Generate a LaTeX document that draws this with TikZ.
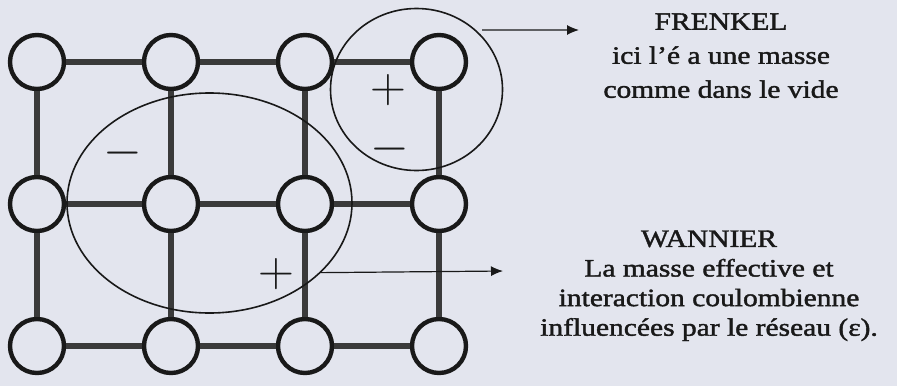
\documentclass[tikz,border=0pt]{standalone}
\usepackage{fontspec}
\setmainfont{Liberation Serif}[FakeStretch=1.18, FakeBold=1.6]
\usetikzlibrary{arrows.meta,shapes.geometric}
\definecolor{papier}{RGB}{227,229,238}
\definecolor{encre}{RGB}{25,25,25}
\definecolor{trait}{RGB}{58,58,58}

\begin{document}
\begin{tikzpicture}[x=0.5pt, y=-0.5pt, >={Latex[length=6pt,width=5pt]},
  atome/.style={circle, draw=encre, line width=2.2pt, minimum size=27pt, inner sep=0pt},
  liaison/.style={draw=trait, line width=3.2pt},
  zone/.style={ellipse, draw=encre, line width=0.8pt, inner sep=0pt},
  charge/.style={inner sep=0pt, text=encre, font=\fontsize{31}{31}\selectfont},
  legende/.style={align=center, inner sep=0pt, anchor=north, text=encre}]

  % fond (papier)
  \fill[papier] (0,0) rectangle (897,386);

  % atomes du réseau (3 rangées, 4 colonnes)
  \foreach \r in {1,2,3} {
    \foreach \c in {1,...,4} {
      \node[atome] (a\r\c) at ({37+134*(\c-1)}, {62+142*(\r-1)}) {};
    }
  }

  % liaisons horizontales et verticales
  \foreach \r in {1,2,3} {
    \foreach \c/\d in {1/2,2/3,3/4} {
      \draw[liaison] (a\r\c) -- (a\r\d);
    }
  }
  \foreach \c in {1,...,4} {
    \foreach \r/\s in {1/2,2/3} {
      \draw[liaison] (a\r\c) -- (a\s\c);
    }
  }

  % exciton de Frenkel (petit cercle) et de Wannier (grande ellipse)
  \node[zone, minimum width=86pt, minimum height=81pt] (frenkel) at (416.5,89.5) {};
  \node[zone, minimum width=142.5pt, minimum height=110pt] (wannier) at (209.5,203) {};

  % charges
  \node[charge] (fplus)  at (388,90)  {$+$};
  \node[charge] (fmoins) at (390,149) {$-$};
  \node[charge] (wmoins) at (123,153) {$-$};
  \node[charge] (wplus)  at (276,274) {$+$};

  % légendes
  \node[legende, font=\fontsize{12.5}{17}\selectfont] (tfrenkel) at (721,13)
    {FRENKEL\\ ici l’é a une masse\\ comme dans le vide};
  \node[legende, font=\fontsize{12.5}{14.8}\selectfont] (twannier) at (709,230)
    {WANNIER\\ La masse effective et\\ interaction coulombienne\\ influencées par le réseau (ε).};

  % flèches vers les légendes
  \coordinate (fpointe) at (579,30);
  \coordinate (wpointe) at (503,271);
  \draw[->, encre, line width=0.6pt] ([xshift=3pt]frenkel.45) -- (fpointe);
  \draw[->, encre, line width=0.6pt] (wannier.-32) -- (wpointe);

\end{tikzpicture}
\end{document}
